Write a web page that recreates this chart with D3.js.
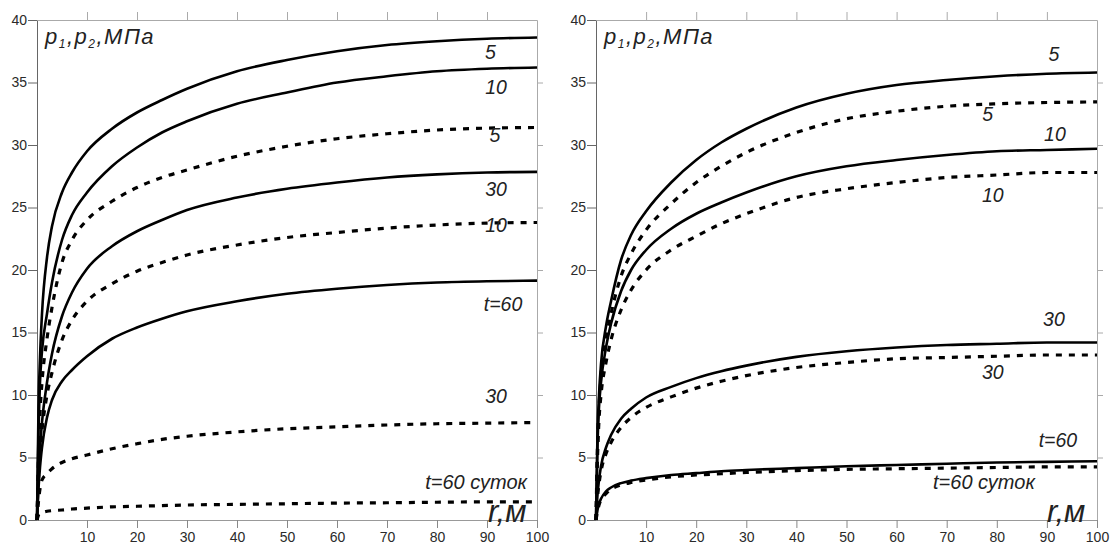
<!DOCTYPE html>
<html lang="ru">
<head>
<meta charset="UTF-8" />
<title>p1, p2 vs r</title>
<script src="https://cdn.jsdelivr.net/npm/d3@7"></script>
<style>
  body { margin: 0; background: #fff; }
  svg text { font-family: "Liberation Sans", Arial, sans-serif; }
  .tick text { font-size: 14px; fill: #2a2a2a; }
  .lbl { font-style: italic; font-size: 19.5px; fill: #222; }
</style>
</head>
<body>
<div id="chart"></div>
<script>
// radius, m
const radius = [0, 0.3, 0.6, 1, 2, 3, 5, 7, 10, 15, 20, 25, 30, 40, 50, 60, 70, 80, 90, 100];

// left panel, p1 (solid) and p2 (dashed), MPa
const leftSolid5  = [0, 9, 13, 16.5, 21, 23.5, 26.2, 27.8, 29.5, 31.3, 32.6, 33.6, 34.5, 35.9, 36.8, 37.5, 38.0, 38.3, 38.5, 38.6];
const leftSolid10 = [0, 7, 11, 13.5, 16.5, 19, 22.4, 24.4, 26.2, 28.3, 29.8, 31, 31.9, 33.3, 34.2, 35, 35.5, 35.9, 36.1, 36.2];
const leftSolid30 = [0, 3.5, 5.8, 7.8, 11, 13.3, 16.3, 18.2, 20.1, 21.9, 23.1, 24.0, 24.8, 25.8, 26.5, 27.0, 27.4, 27.65, 27.8, 27.85];
const leftSolid60 = [0, 2.5, 4.2, 5.8, 8.2, 9.6, 11.1, 12.0, 13.1, 14.5, 15.4, 16.1, 16.7, 17.5, 18.1, 18.5, 18.8, 19.0, 19.1, 19.15];
const leftDash5   = [0, 5, 8.5, 11, 14.5, 17, 20.6, 22.4, 24, 25.5, 26.6, 27.4, 28.0, 29.1, 29.9, 30.5, 30.9, 31.2, 31.35, 31.4];
const leftDash10  = [0, 3.5, 5.5, 7.2, 10, 11.8, 14.4, 16, 17.5, 18.9, 19.9, 20.6, 21.2, 22.0, 22.6, 23.0, 23.35, 23.6, 23.75, 23.8];
const leftDash30  = [0, 1.5, 2.5, 3.2, 3.7, 4.1, 4.6, 4.9, 5.2, 5.7, 6.1, 6.45, 6.7, 7.05, 7.3, 7.45, 7.6, 7.7, 7.75, 7.8];
const leftDash60  = [0, 0.4, 0.55, 0.6, 0.7, 0.75, 0.8, 0.88, 0.95, 1.05, 1.1, 1.15, 1.2, 1.25, 1.3, 1.35, 1.38, 1.42, 1.45, 1.45];

// right panel
const rightSolid5  = [0, 7, 10, 12.5, 15.5, 17.5, 20.8, 22.8, 24.7, 27, 28.8, 30.2, 31.3, 33.0, 34.1, 34.8, 35.2, 35.5, 35.7, 35.8];
const rightSolid10 = [0, 6, 9, 11, 13.8, 15.7, 18.3, 20, 21.6, 23.3, 24.5, 25.4, 26.2, 27.5, 28.3, 28.8, 29.2, 29.5, 29.6, 29.7];
const rightSolid30 = [0, 2, 3.2, 4.3, 5.8, 6.8, 8.1, 8.9, 9.8, 10.65, 11.35, 11.9, 12.35, 13.05, 13.5, 13.8, 14.0, 14.1, 14.2, 14.2];
const rightSolid60 = [0, 0.8, 1.3, 1.7, 2.3, 2.6, 2.95, 3.15, 3.35, 3.6, 3.75, 3.9, 4.0, 4.15, 4.3, 4.4, 4.5, 4.6, 4.65, 4.7];
const rightDash5   = [0, 6, 9, 11.5, 14.5, 16.5, 19.5, 21.3, 23.2, 25.3, 27.0, 28.3, 29.4, 31.0, 32.1, 32.7, 33.1, 33.3, 33.4, 33.45];
const rightDash10  = [0, 5, 8, 10, 12.6, 14.4, 16.8, 18.4, 20, 21.6, 22.7, 23.7, 24.5, 25.8, 26.5, 27, 27.4, 27.6, 27.8, 27.8];
const rightDash30  = [0, 1.8, 2.9, 3.9, 5.3, 6.2, 7.4, 8.2, 9.0, 9.85, 10.55, 11.1, 11.55, 12.2, 12.6, 12.9, 13.0, 13.1, 13.2, 13.2];
const rightDash60  = [0, 0.7, 1.2, 1.6, 2.1, 2.45, 2.8, 3.0, 3.2, 3.45, 3.6, 3.7, 3.8, 3.95, 4.05, 4.1, 4.15, 4.2, 4.25, 4.25];

// curve labels: text, r, p (placed in data units)
const leftLabels = [
  ["5", 90.7, 37.4], ["10", 91.8, 34.6], ["5", 91.6, 30.8], ["30", 91.8, 26.5],
  ["10", 91.8, 23.6], ["t=60", 93.2, 17.3], ["30", 91.8, 9.9]
];
const rightLabels = [
  ["5", 91.4, 37.3], ["5", 78.2, 32.5], ["10", 91.6, 30.9], ["10", 79.2, 26.0],
  ["30", 91.4, 16.1], ["30", 79.2, 11.8], ["t=60", 92.2, 6.4]
];

const yTicks = [0, 5, 10, 15, 20, 25, 30, 35, 40];
const xTicks = [10, 20, 30, 40, 50, 60, 70, 80, 90, 100];

const svg = d3.select("#chart").append("svg")
  .attr("width", 1111).attr("height", 544);

function drawPanel(left, right, solids, dashes, labels, bottomLeft, bottomEnd) {
  const x = d3.scaleLinear().domain([0, 100]).range([left, right]);
  const y = d3.scaleLinear().domain([0, 40]).range([520, 20]);
  const g = svg.append("g");

  // frame: top and right light, left and bottom darker
  g.append("g").attr("transform", "translate(0,20)")
    .call(d3.axisTop(x).tickValues(xTicks.slice(0, 9)).tickSize(8).tickSizeOuter(0).tickFormat(""))
    .call(a => a.selectAll("path,line").attr("stroke", "#aaa"));
  g.append("g").attr("transform", `translate(${right},0)`)
    .call(d3.axisRight(y).tickValues(yTicks.slice(1, 8)).tickSize(6).tickSizeOuter(0).tickFormat(""))
    .call(a => a.selectAll("path,line").attr("stroke", "#aaa"));
  g.append("g").attr("transform", "translate(0,520)")
    .call(d3.axisBottom(x).tickValues(xTicks).tickSize(8).tickSizeOuter(0).tickPadding(4))
    .call(a => a.selectAll("path,line").attr("stroke", "#888"))
    .call(a => a.select(".domain").attr("stroke", "#999"));
  g.append("g").attr("transform", `translate(${left},0)`)
    .call(d3.axisLeft(y).tickValues(yTicks).tickSize(9).tickSizeOuter(0).tickPadding(1))
    .call(a => a.selectAll("path,line").attr("stroke", "#666"));
  g.selectAll(".tick text").attr("font-family", null).attr("font-size", null);

  const line = d3.line().x((d, i) => x(radius[i])).y(d => y(d)).curve(d3.curveMonotoneX);

  g.selectAll(".solid").data(solids).enter().append("path")
    .attr("d", line).attr("fill", "none")
    .attr("stroke", "#000").attr("stroke-width", 2.6);
  g.selectAll(".dash").data(dashes).enter().append("path")
    .attr("d", line).attr("fill", "none")
    .attr("stroke", "#000").attr("stroke-width", 3.2)
    .attr("stroke-dasharray", "6,7");

  g.selectAll(".lbl").data(labels).enter().append("text")
    .attr("class", "lbl")
    .attr("x", d => x(d[1])).attr("y", d => y(d[2]))
    .attr("text-anchor", "middle").attr("dy", "0.35em")
    .text(d => d[0]);

  g.append("text").attr("class", "lbl")
    .attr("x", x(bottomEnd)).attr("y", 489).attr("text-anchor", "end")
    .style("font-size", "20px")
    .text("t=60 суток");

  g.append("text").attr("class", "lbl")
    .attr("x", x(bottomLeft)).attr("y", 522).style("font-size", "31px")
    .text("r,м");

  const yl = g.append("text").attr("class", "lbl")
    .attr("x", left + 8).attr("y", 44)
    .style("font-size", "22px").style("letter-spacing", "1.5px");
  yl.append("tspan").text("p");
  yl.append("tspan").attr("dy", 4).style("font-size", "12px").text("1");
  yl.append("tspan").attr("dy", -4).text(",p");
  yl.append("tspan").attr("dy", 4).style("font-size", "12px").text("2");
  yl.append("tspan").attr("dy", -4).text(",МПа");
}

drawPanel(37, 537,
  [leftSolid5, leftSolid10, leftSolid30, leftSolid60],
  [leftDash5, leftDash10, leftDash30, leftDash60],
  leftLabels, 90.2, 98);

drawPanel(596, 1097,
  [rightSolid5, rightSolid10, rightSolid30, rightSolid60],
  [rightDash5, rightDash10, rightDash30, rightDash60],
  rightLabels, 90, 87.6);
</script>
</body>
</html>
